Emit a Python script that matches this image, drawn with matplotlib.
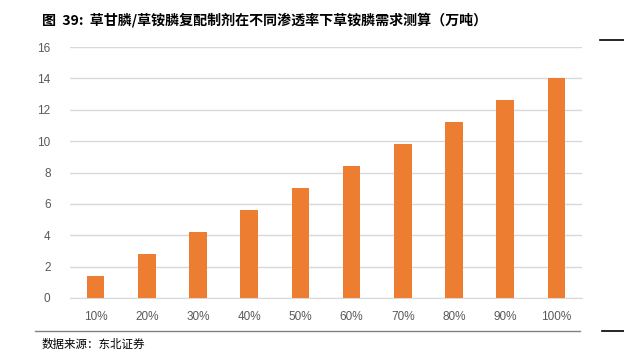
import matplotlib
matplotlib.use("Agg")
import matplotlib.pyplot as plt
from matplotlib.lines import Line2D

plt.rcParams['font.family'] = ['Noto Sans CJK SC', 'DejaVu Sans']

categories = ['10%', '20%', '30%', '40%', '50%', '60%', '70%', '80%', '90%', '100%']
values = [1.4, 2.8, 4.2, 5.6, 7.0, 8.4, 9.8, 11.2, 12.6, 14.0]
yticks = [0, 2, 4, 6, 8, 10, 12, 14, 16]
title = '图  39:  草甘膦/草铵膦复配制剂在不同渗透率下草铵膦需求测算（万吨）'
source = '数据来源：东北证券'

W, H = 624, 354
fig = plt.figure(figsize=(W/100, H/100), dpi=100)
ax = fig.add_axes([70/W, 1-298/H, 512/W, 251/H])

x = list(range(len(categories)))
ax.bar(x, values, width=0.34, color='#ED7D31', zorder=3)
ax.set_xlim(-0.5, len(categories)-0.5)
ax.set_ylim(0, 16)
ax.set_yticks(yticks)
ax.set_xticks(x)
ax.set_xticklabels(categories)
ax.yaxis.grid(True, color='#D9D9D9', linewidth=1, zorder=0)
for s in ['top', 'right', 'left']:
    ax.spines[s].set_visible(False)
ax.spines['bottom'].set_color('#D9D9D9')
ax.tick_params(axis='both', length=0, labelsize=8.5, colors='#595959')
ax.tick_params(axis='x', pad=9)
ax.tick_params(axis='y', pad=14)
for lab in ax.get_xticklabels() + ax.get_yticklabels():
    lab.set_family(['Liberation Sans', 'DejaVu Sans'])

fig.text(42/W, 1-20/H, title, fontsize=10.1, fontweight='bold', va='center', ha='left', color='#000000')
fig.text(42/W, 1-344/H, source, fontsize=8.3, va='center', ha='left', color='#000000')

fig.add_artist(Line2D([600/W, 1.0], [1-40/H, 1-40/H], color='#000000', linewidth=1.2))
fig.add_artist(Line2D([35/W, 580/W], [1-331/H, 1-331/H], color='#808080', linewidth=1))
fig.add_artist(Line2D([602/W, 1.0], [1-331/H, 1-331/H], color='#000000', linewidth=1.2))

fig.savefig('out.png', dpi=100)
